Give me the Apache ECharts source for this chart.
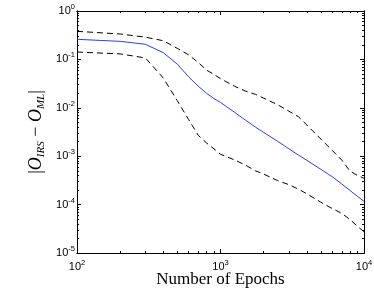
<!DOCTYPE html>
<html>
<head>
<meta charset="utf-8">
<script src="https://cdn.jsdelivr.net/npm/echarts@6/dist/echarts.min.js"></script>
<style>
html, body { margin: 0; padding: 0; background: #fff; }
#chart { width: 374px; height: 290px; }
</style>
</head>
<body>
<div id="chart"></div>
<script>
// values
var epochs   = [100, 200, 300, 400, 500, 600, 700, 800, 900, 1000, 1250, 1500, 1750, 2000, 2500, 3000, 3500, 4000, 5000, 6000, 7000, 8000, 9000, 10000];
var meanErr  = [0.26, 0.236, 0.205, 0.137, 0.08, 0.0435, 0.028, 0.0199, 0.0155, 0.0129, 0.0081, 0.0055, 0.0040, 0.0031, 0.00203, 0.00142, 0.00105, 0.00082, 0.000536, 0.000377, 0.000267, 0.000195, 0.000148, 0.000117];
var upperErr = [0.38, 0.335, 0.288, 0.243, 0.169, 0.124, 0.086, 0.060, 0.049, 0.040, 0.028, 0.022, 0.019, 0.0158, 0.0116, 0.0085, 0.0065, 0.0044, 0.00226, 0.00132, 0.00083, 0.00049, 0.0004, 0.00035];
var lowerErr = [0.142, 0.13, 0.107, 0.041, 0.014, 0.0057, 0.0027, 0.00187, 0.00142, 0.0011, 0.00084, 0.00065, 0.0005, 0.000427, 0.000313, 0.000258, 0.000208, 0.000167, 0.000112, 0.000083, 0.000066, 0.000049, 0.0000355, 0.0000275];

var xMajorTicks = [100, 1000, 10000];
var yMajorTicks = [1e-5, 1e-4, 1e-3, 1e-2, 1e-1, 1];

function minorTicks(majors) {
  var out = [];
  for (var i = 0; i < majors.length - 1; i++) {
    for (var k = 2; k <= 9; k++) out.push(majors[i] * k);
  }
  return out;
}

function pow10Label(v) {
  var e = Math.round(Math.log10(v));
  return '{b|10}{s|' + e + '}';
}

var labelRich = {
  b: { fontFamily: 'Liberation Sans', fontSize: 11, color: '#000', lineHeight: 16 },
  s: { fontFamily: 'Liberation Sans', fontSize: 7.5, color: '#000', lineHeight: 8, verticalAlign: 'top' }
};

function makeAxis(kind, pos, ticks, len, extent, withLabels) {
  var ax = {
    type: 'log',
    logBase: 10,
    min: extent[0],
    max: extent[1],
    position: pos,
    gridIndex: 0,
    nameMoveOverlap: false,
    axisLine: { show: true, onZero: false, lineStyle: { color: '#000', width: 1 } },
    axisTick: { show: true, inside: true, length: len, customValues: ticks, lineStyle: { color: '#000', width: 1 } },
    axisLabel: { show: false },
    splitLine: { show: false },
    minorTick: { show: false }
  };
  if (withLabels) {
    ax.axisLabel = {
      show: true,
      customValues: ticks,
      formatter: pow10Label,
      rich: labelRich,
      margin: kind === 'x' ? 6 : 2
    };
  }
  return ax;
}

var chart = echarts.init(document.getElementById('chart'));

var xAxes = [
  makeAxis('x', 'bottom', xMajorTicks, 4, [100, 10000], true),
  makeAxis('x', 'bottom', minorTicks(xMajorTicks), 2, [100, 10000], false),
  makeAxis('x', 'top', xMajorTicks, 4, [100, 10000], false),
  makeAxis('x', 'top', minorTicks(xMajorTicks), 2, [100, 10000], false)
];
xAxes[0].name = 'Number of Epochs';
xAxes[0].nameLocation = 'middle';
xAxes[0].nameGap = 18;
xAxes[0].nameTextStyle = { fontFamily: 'Liberation Serif', fontSize: 17, color: '#000' };

var yAxes = [
  makeAxis('y', 'left', yMajorTicks, 4, [1e-5, 1], true),
  makeAxis('y', 'left', minorTicks(yMajorTicks), 2, [1e-5, 1], false),
  makeAxis('y', 'right', yMajorTicks, 4, [1e-5, 1], false),
  makeAxis('y', 'right', minorTicks(yMajorTicks), 2, [1e-5, 1], false)
];
yAxes[0].name = '|{i|O}{sub|IRS} − {i|O}{sub|ML}|';
yAxes[0].nameLocation = 'middle';
yAxes[0].nameRotate = 90;
yAxes[0].nameGap = 30;
yAxes[0].nameTextStyle = {
  fontFamily: 'Liberation Serif', fontSize: 18, color: '#000',
  rich: {
    i: { fontFamily: 'Liberation Serif', fontStyle: 'italic', fontSize: 18, color: '#000', lineHeight: 22 },
    sub: { fontFamily: 'Liberation Serif', fontStyle: 'italic', fontSize: 11, color: '#000', lineHeight: 11, verticalAlign: 'bottom' }
  }
};

function pairs(vals) {
  return epochs.map(function (e, i) { return [e, vals[i]]; });
}

var option = {
  animation: false,
  backgroundColor: '#fff',
  grid: { left: 77, right: 10, top: 11, bottom: 37, containLabel: false, outerBoundsMode: 'none' },
  xAxis: xAxes,
  yAxis: yAxes,
  series: [
    {
      type: 'line', data: pairs(upperErr), symbol: 'none',
      lineStyle: { color: '#000', width: 1, type: [6, 4] }
    },
    {
      type: 'line', data: pairs(lowerErr), symbol: 'none',
      lineStyle: { color: '#000', width: 1, type: [6, 4] }
    },
    {
      type: 'line', data: pairs(meanErr), symbol: 'none',
      lineStyle: { color: '#2a3cff', width: 1 }
    }
  ]
};

chart.setOption(option);
</script>
</body>
</html>
